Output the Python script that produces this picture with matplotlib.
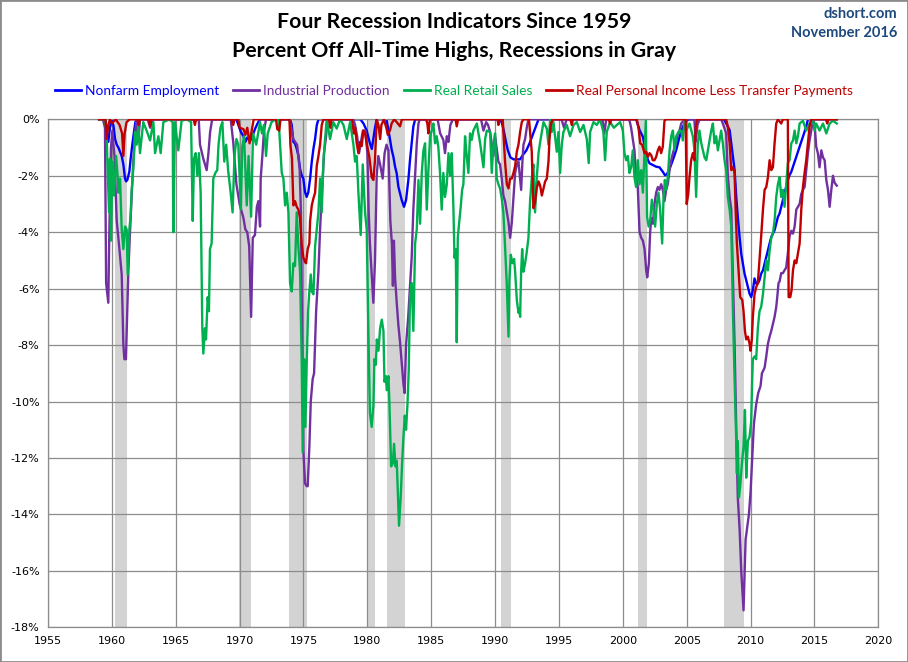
import matplotlib
matplotlib.use('Agg')
import matplotlib.pyplot as plt
from matplotlib.lines import Line2D
from matplotlib.patches import Rectangle

# (year, percent off all-time high)
nonfarm = [
    (1959.0, 0), (1959.5, 0), (1959.6, -0.5), (1959.72, -0.8), (1959.85, -0.3), (1960.0, 0), (1960.12, -0.2),
    (1960.25, -0.7), (1960.38, -0.9), (1960.51, -1.0), (1960.64, -1.15), (1960.77, -1.3), (1960.9, -1.6),
    (1961.03, -2.1), (1961.11, -2.2), (1961.21, -2.15), (1961.37, -1.85), (1961.47, -1.4), (1961.6, -0.9),
    (1961.73, -0.45), (1961.84, -0.1), (1961.95, 0),
    (1969.75, 0), (1969.9, -0.2), (1970.1, -0.45), (1970.3, -0.6), (1970.45, -0.8), (1970.6, -0.65),
    (1970.85, -0.75), (1971.0, -0.6), (1971.2, -0.35), (1971.4, -0.15), (1971.6, 0),
    (1973.95, 0), (1974.08, -0.2), (1974.21, -0.8), (1974.34, -0.86), (1974.47, -1.04), (1974.6, -1.28),
    (1974.73, -1.75), (1974.86, -1.99), (1974.99, -2.1), (1975.12, -2.58), (1975.25, -2.75), (1975.38, -2.58),
    (1975.52, -2.1), (1975.65, -1.5), (1975.78, -1.04), (1975.91, -0.69), (1976.04, -0.21), (1976.17, 0),
    (1979.45, 0), (1979.7, -0.15), (1979.95, -0.4), (1980.2, -0.85), (1980.35, -1.05), (1980.47, -0.7),
    (1980.6, -0.3), (1980.73, 0),
    (1981.5, 0), (1981.65, -0.38), (1981.78, -0.73), (1981.91, -1.09), (1982.04, -1.33), (1982.17, -1.68),
    (1982.3, -1.92), (1982.43, -2.39), (1982.56, -2.63), (1982.69, -2.86), (1982.87, -3.1), (1983.03, -2.86),
    (1983.21, -2.15), (1983.34, -1.44), (1983.47, -0.85), (1983.6, -0.26), (1983.74, 0),
    (1990.4, 0), (1990.55, -0.15), (1990.7, -0.45), (1990.85, -0.8), (1991.0, -1.1), (1991.2, -1.35),
    (1991.45, -1.42), (1991.7, -1.42), (1991.95, -1.42), (1992.2, -1.25), (1992.45, -1.1), (1992.7, -0.85),
    (1992.95, -0.55), (1993.2, -0.25), (1993.4, 0),
    (2001.04, 0), (2001.31, -0.38), (2001.57, -0.62), (2001.83, -1.21), (2001.96, -1.44), (2002.09, -1.56),
    (2002.35, -1.62), (2002.61, -1.68), (2002.87, -1.7), (2003.13, -1.86), (2003.3, -1.98), (2003.45, -1.95),
    (2003.6, -1.8), (2003.75, -1.65), (2003.92, -1.44), (2004.18, -1.09), (2004.44, -0.62), (2004.7, -0.26),
    (2004.96, -0.05), (2005.22, 0),
    (2007.9, 0), (2008.09, -0.14), (2008.36, -0.38), (2008.49, -0.85), (2008.62, -1.33), (2008.75, -1.8),
    (2008.88, -2.75), (2009.0, -3.46), (2009.14, -4.17), (2009.27, -4.76), (2009.4, -5.11), (2009.53, -5.47),
    (2009.66, -5.7), (2009.79, -5.94), (2009.92, -6.18), (2010.05, -6.3), (2010.18, -6.06), (2010.31, -5.64),
    (2010.44, -5.82), (2010.57, -5.82), (2010.7, -5.7), (2010.83, -5.47), (2010.97, -5.35), (2011.1, -5.11),
    (2011.23, -4.88), (2011.36, -4.64), (2011.49, -4.4), (2011.62, -4.17), (2011.75, -4.05), (2011.88, -3.93),
    (2012.01, -3.69), (2012.14, -3.46), (2012.27, -3.34), (2012.4, -3.1), (2012.53, -2.86), (2012.66, -2.63),
    (2012.79, -2.39), (2012.92, -2.15), (2013.05, -1.98), (2013.19, -1.86), (2013.32, -1.68), (2013.58, -1.33),
    (2013.84, -0.97), (2014.1, -0.62), (2014.36, -0.26), (2014.49, 0), (2016.75, 0),
]

industrial = [
    (1959.0, 0), (1959.3, 0), (1959.46, -0.3), (1959.55, -5.8), (1959.72, -6.5), (1959.8, -4.0), (1959.93, -1.0),
    (1960.04, -0.4), (1960.2, -1.3), (1960.38, -3.6), (1960.55, -4.4), (1960.77, -5.5), (1960.9, -8.0),
    (1960.98, -8.5), (1961.1, -8.5), (1961.2, -6.8), (1961.29, -5.4), (1961.42, -4.0), (1961.55, -2.7),
    (1961.68, -1.5), (1961.81, -0.5), (1961.94, 0),
    (1962.07, -0.8), (1962.2, 0), (1962.8, 0), (1963.0, -0.3), (1963.2, 0), (1966.8, 0), (1966.9, -0.9),
    (1967.16, -1.4), (1967.42, -1.8), (1967.56, -1.2), (1967.69, -0.45), (1967.85, 0),
    (1969.3, 0), (1969.5, -0.8), (1969.75, -2.3), (1970.0, -3.0), (1970.3, -3.5), (1970.45, -3.9), (1970.6, -4.0),
    (1970.75, -4.5), (1970.9, -7.0), (1971.03, -4.2), (1971.2, -4.1), (1971.35, -3.1), (1971.47, -2.9),
    (1971.6, -3.8), (1971.65, -2.1), (1971.78, -1.3), (1971.91, -0.4), (1972.07, 0),
    (1973.9, 0), (1974.0, -0.2), (1974.2, -0.7), (1974.5, -0.9), (1974.7, -1.75), (1974.8, -3.3), (1974.9, -8.0),
    (1975.0, -11.8), (1975.12, -12.9), (1975.25, -13.0), (1975.33, -13.0), (1975.46, -11.6), (1975.57, -10.0),
    (1975.72, -9.2), (1975.83, -9.0), (1975.99, -6.8), (1976.17, -5.4), (1976.3, -3.9), (1976.43, -2.7),
    (1976.61, -1.2), (1976.77, -0.6), (1976.87, 0),
    (1978.9, 0), (1979.04, -0.2), (1979.2, -0.6), (1979.35, -1.2), (1979.5, -0.8), (1979.65, -0.4),
    (1979.85, -0.4), (1980.0, -1.2), (1980.1, -3.2), (1980.2, -4.4), (1980.35, -5.6), (1980.47, -6.5),
    (1980.6, -5.0), (1980.73, -2.0), (1980.86, -1.3), (1981.0, -1.6), (1981.2, -2.1), (1981.35, -1.2),
    (1981.5, -0.9), (1981.65, -1.1), (1981.8, -3.6), (1981.92, -4.4), (1982.0, -5.9), (1982.08, -4.3),
    (1982.17, -5.6), (1982.3, -6.5), (1982.43, -7.3), (1982.56, -7.9), (1982.7, -8.7), (1982.83, -9.4),
    (1982.92, -9.7), (1983.03, -8.0), (1983.2, -7.0), (1983.35, -5.8), (1983.47, -4.9), (1983.6, -3.2),
    (1983.74, -2.0), (1983.87, -0.85), (1984.0, -0.15), (1984.1, 0),
    (1985.5, 0), (1985.7, -0.5), (1985.95, -0.73), (1986.08, -1.2), (1986.22, -0.6), (1986.35, -0.8),
    (1986.5, -0.2), (1986.7, 0),
    (1988.9, 0), (1989.09, -0.4), (1989.3, -0.1), (1989.45, -0.2), (1989.61, -0.45), (1989.87, -1.3),
    (1990.0, -0.6), (1990.26, -1.5), (1990.39, -1.6), (1990.52, -2.1), (1990.65, -2.7), (1990.78, -2.9),
    (1990.92, -3.3), (1991.05, -3.65), (1991.18, -4.2), (1991.31, -3.65), (1991.44, -2.8), (1991.57, -1.9),
    (1991.7, -1.6), (1991.83, -1.5), (1991.96, -2.1), (1992.04, -2.5), (1992.14, -1.5), (1992.22, -0.9),
    (1992.35, -0.7), (1992.48, -0.3), (1992.61, 0),
    (1995.2, 0), (1995.4, -0.3), (1995.6, 0), (1998.4, 0), (1998.55, -0.5), (1998.7, 0),
    (2000.5, 0), (2000.65, -0.3), (2000.78, -0.7), (2000.91, -1.1), (2001.04, -2.0), (2001.17, -2.4),
    (2001.31, -4.0), (2001.44, -4.2), (2001.57, -4.3), (2001.7, -4.6), (2001.83, -5.35), (2001.91, -5.6),
    (2002.04, -5.1), (2002.14, -4.0), (2002.22, -3.5), (2002.35, -3.7), (2002.48, -3.0), (2002.61, -2.6),
    (2002.74, -2.4), (2002.87, -2.5), (2003.0, -2.3), (2003.13, -2.5), (2003.26, -2.9), (2003.39, -2.5),
    (2003.52, -2.3), (2003.66, -1.8), (2003.79, -1.45), (2003.92, -1.2), (2004.05, -1.0), (2004.18, -0.85),
    (2004.31, -0.5), (2004.44, -0.4), (2004.57, -0.15), (2004.83, 0),
    (2005.6, 0), (2005.7, -0.8), (2005.85, -0.2), (2006.0, 0),
    (2007.7, 0), (2007.83, -0.15), (2008.09, -0.5), (2008.22, -2.0), (2008.36, -2.75), (2008.49, -3.2),
    (2008.62, -5.6), (2008.75, -8.0), (2008.88, -11.0), (2009.0, -13.4), (2009.14, -14.5), (2009.27, -16.0),
    (2009.45, -17.4), (2009.61, -14.9), (2009.74, -14.45), (2009.87, -14.0), (2010.0, -13.2), (2010.13, -12.0),
    (2010.26, -10.8), (2010.44, -10.1), (2010.6, -9.7), (2010.78, -9.45), (2010.89, -9.0), (2011.1, -8.8),
    (2011.23, -8.4), (2011.36, -7.95), (2011.49, -7.7), (2011.62, -7.5), (2011.75, -7.25), (2011.88, -7.0),
    (2012.01, -6.65), (2012.09, -6.3), (2012.19, -5.8), (2012.27, -5.75), (2012.4, -5.45), (2012.53, -5.45),
    (2012.66, -5.35), (2012.79, -5.25), (2012.92, -4.75), (2013.05, -4.15), (2013.19, -3.95), (2013.32, -4.05),
    (2013.45, -3.8), (2013.58, -3.2), (2013.71, -3.1), (2013.84, -3.0), (2013.97, -2.65), (2014.1, -2.5),
    (2014.23, -2.4), (2014.36, -1.8), (2014.49, -1.2), (2014.62, -0.75), (2014.75, -0.4), (2014.88, -0.05),
    (2015.01, -0.15), (2015.14, -0.97), (2015.27, -1.2), (2015.4, -1.7), (2015.54, -1.1), (2015.67, -1.35),
    (2015.8, -1.45), (2015.93, -2.15), (2016.06, -2.5), (2016.19, -3.1), (2016.32, -2.5), (2016.45, -2.0),
    (2016.58, -2.25), (2016.75, -2.35),
]

retail = [
    (1959.0, 0), (1959.46, 0), (1959.59, -0.5), (1959.65, -1.5), (1959.78, -3.3), (1959.85, -1.4), (1959.93, -4.3),
    (1960.04, -1.5), (1960.17, -2.7), (1960.33, -1.3), (1960.45, -2.0), (1960.51, -2.6), (1960.64, -2.1),
    (1960.77, -3.9), (1960.9, -4.6), (1961.03, -3.8), (1961.16, -3.9), (1961.24, -5.5), (1961.37, -3.9),
    (1961.47, -3.4), (1961.55, -2.5), (1961.63, -2.1), (1961.73, -1.3), (1961.81, -0.45), (1961.94, -0.9),
    (1962.07, -0.2), (1962.2, -1.2), (1962.46, -0.1), (1962.72, -0.4), (1962.99, -0.75), (1963.25, -0.1),
    (1963.38, -1.2), (1963.64, -0.6), (1963.82, -1.2), (1964.03, -0.1), (1964.5, 0), (1964.76, -0.1),
    (1964.81, -4.0), (1964.94, -0.1), (1965.2, -1.1), (1965.46, -0.05), (1965.86, 0), (1966.2, -0.1),
    (1966.33, -3.6), (1966.43, -1.4), (1966.56, -1.2), (1966.69, -2.0), (1966.82, -1.2), (1966.95, -2.6),
    (1967.08, -7.4), (1967.16, -8.3), (1967.29, -7.4), (1967.37, -7.8), (1967.5, -6.3), (1967.6, -6.8),
    (1967.68, -4.6), (1967.81, -4.4), (1967.94, -2.1), (1968.1, -1.9), (1968.25, -1.8), (1968.35, -0.9),
    (1968.5, -0.3), (1968.65, -0.1), (1968.8, -1.5), (1968.95, -0.9), (1969.1, -1.8), (1969.3, -2.6),
    (1969.45, -3.3), (1969.6, -1.3), (1969.75, -0.7), (1969.9, -0.9),
    (1970.1, -3.2), (1970.2, -1.0), (1970.35, -0.6), (1970.56, -3.05), (1970.7, -1.3), (1970.9, -3.45),
    (1971.05, -0.5), (1971.3, -0.9), (1971.45, -0.5), (1971.6, -0.1), (1971.75, -0.5), (1971.9, -0.2),
    (1972.07, -1.3), (1972.2, -0.5), (1972.5, -0.1), (1972.8, 0), (1973.05, 0),
    (1973.17, -0.9), (1973.3, -1.9), (1973.43, -2.1), (1973.56, -3.05), (1973.69, -2.6), (1973.82, -3.3),
    (1973.95, -5.8), (1974.08, -6.1), (1974.21, -5.1), (1974.34, -5.2), (1974.47, -3.3), (1974.6, -4.5),
    (1974.73, -5.4), (1974.86, -8.5), (1974.94, -11.8), (1975.05, -8.5), (1975.15, -10.9), (1975.25, -8.7),
    (1975.36, -6.8), (1975.46, -6.1), (1975.57, -5.5), (1975.65, -6.1), (1975.78, -6.2), (1975.91, -4.5),
    (1976.04, -3.9), (1976.17, -3.3), (1976.3, -2.1), (1976.43, -3.3), (1976.56, -1.5), (1976.69, -0.7),
    (1976.82, 0),
    (1977.08, -0.7), (1977.34, -0.1), (1977.6, -0.33), (1977.86, 0), (1978.13, -0.2), (1978.39, -0.7),
    (1978.65, -0.1), (1978.91, -0.9), (1979.04, -1.5), (1979.17, -1.3), (1979.3, -2.6), (1979.48, -4.1),
    (1979.64, -1.6), (1979.82, -3.3), (1979.95, -3.9), (1980.08, -7.5), (1980.2, -10.4), (1980.34, -10.9),
    (1980.48, -10.1), (1980.55, -8.5), (1980.66, -8.7), (1980.74, -7.8), (1980.87, -8.2), (1981.0, -7.4),
    (1981.13, -7.1), (1981.26, -7.5), (1981.34, -9.3), (1981.45, -9.1), (1981.52, -9.6), (1981.65, -9.1),
    (1981.73, -10.1), (1981.86, -12.3), (1981.99, -12.2), (1982.09, -11.5), (1982.2, -12.3), (1982.3, -12.1),
    (1982.38, -13.15), (1982.48, -14.4), (1982.61, -13.4), (1982.72, -12.2), (1982.82, -11.3), (1982.93, -10.5),
    (1983.03, -11.0), (1983.14, -10.1), (1983.24, -8.9), (1983.34, -6.3), (1983.47, -5.8), (1983.6, -7.5),
    (1983.74, -4.4), (1983.87, -3.9), (1984.0, -2.15), (1984.13, -3.7), (1984.26, -1.9), (1984.39, -1.1),
    (1984.52, -0.85), (1984.65, -3.2), (1984.78, -1.8), (1984.91, -0.6), (1985.04, -0.4), (1985.17, -0.15),
    (1985.3, -0.85), (1985.43, -0.6), (1985.56, -1.0), (1985.69, -1.9), (1985.82, -3.2), (1985.95, -1.9),
    (1986.08, -2.75), (1986.22, -2.3), (1986.35, -1.2), (1986.48, -2.0), (1986.61, -1.2), (1986.74, -3.2),
    (1986.82, -4.9), (1986.92, -4.6), (1987.0, -7.9), (1987.08, -4.2), (1987.18, -3.7), (1987.31, -3.1),
    (1987.42, -2.5), (1987.52, -2.3), (1987.65, -0.6), (1987.78, -1.3), (1987.91, -1.9), (1988.04, -0.5),
    (1988.17, -0.73), (1988.3, -0.4), (1988.57, -0.15), (1988.83, -0.85), (1989.09, -1.7), (1989.22, -0.7),
    (1989.35, -0.4), (1989.61, -0.45), (1989.74, -1.9), (1989.87, -0.9), (1990.0, -0.5), (1990.13, -2.1),
    (1990.26, -2.3), (1990.39, -2.45), (1990.52, -2.8), (1990.65, -3.3), (1990.78, -4.5), (1990.92, -5.9),
    (1991.05, -7.7), (1991.12, -5.7), (1991.23, -4.8), (1991.36, -5.1), (1991.49, -4.95), (1991.57, -5.4),
    (1991.7, -6.4), (1991.83, -6.85), (1991.91, -6.7), (1991.96, -7.0), (1992.04, -5.4), (1992.12, -4.6),
    (1992.22, -5.4), (1992.35, -5.1), (1992.48, -4.7), (1992.61, -4.2), (1992.74, -2.9), (1992.87, -2.1),
    (1993.0, -1.6), (1993.13, -3.3), (1993.26, -2.1), (1993.4, -1.2), (1993.53, -0.8), (1993.66, -0.45),
    (1993.79, -0.1), (1994.05, -0.33), (1994.18, -0.9), (1994.31, 0), (1994.44, -0.45), (1994.57, -0.1),
    (1994.83, -1.15), (1994.96, -0.45), (1995.09, -1.9), (1995.22, -0.9), (1995.35, -0.45), (1995.61, -0.2),
    (1995.87, -0.6), (1996.14, -0.2), (1996.4, -0.1), (1996.66, -0.45), (1996.92, -0.2), (1997.18, -0.7),
    (1997.33, -1.55), (1997.44, -0.45), (1997.7, -0.1), (1997.96, -0.2), (1998.22, 0), (1998.48, -0.45),
    (1998.61, -1.45), (1998.74, -0.45), (1999.0, -0.1), (1999.3, -0.3), (1999.53, -0.2), (1999.79, -0.1),
    (2000.0, -0.4), (2000.13, -1.2), (2000.26, -1.45), (2000.39, -1.3), (2000.52, -1.9), (2000.65, -1.7),
    (2000.78, -1.1), (2000.91, -2.05), (2001.04, -2.4), (2001.17, -1.45), (2001.31, -2.3), (2001.44, -1.8),
    (2001.57, -2.6), (2001.7, -1.2), (2001.8, -0.05), (2001.9, -3.45), (2002.02, -3.8), (2002.14, -3.6),
    (2002.27, -2.85), (2002.4, -3.2), (2002.53, -3.8), (2002.66, -3.0), (2002.79, -2.6), (2002.92, -3.2),
    (2003.08, -4.4), (2003.19, -2.75), (2003.29, -2.15), (2003.39, -2.5), (2003.52, -2.05), (2003.66, -1.1),
    (2003.79, -0.6), (2003.92, -0.4), (2004.05, -1.1), (2004.18, -0.6), (2004.44, -0.4), (2004.57, -0.4),
    (2004.7, -0.75), (2004.83, 0), (2004.96, -0.4), (2005.22, -0.15), (2005.48, -0.6), (2005.61, -1.1),
    (2005.74, -2.75), (2005.87, -0.85), (2006.0, -0.4), (2006.14, -0.85), (2006.27, -1.1), (2006.4, -1.35),
    (2006.53, -1.45), (2006.66, -1.1), (2006.79, -0.75), (2006.92, -0.4), (2007.05, -0.15), (2007.18, -0.85),
    (2007.31, -0.6), (2007.44, -1.1), (2007.57, -0.75), (2007.7, -0.4), (2007.83, -0.85), (2007.96, -1.45),
    (2008.09, -1.8), (2008.22, -2.75), (2008.36, -3.2), (2008.49, -3.8), (2008.62, -6.8), (2008.75, -9.2),
    (2008.88, -11.4), (2008.93, -12.55), (2009.0, -11.4), (2009.09, -13.4), (2009.19, -13.0), (2009.32, -12.2),
    (2009.45, -11.6), (2009.56, -10.3), (2009.66, -12.7), (2009.79, -11.4), (2009.92, -11.25), (2010.05, -10.7),
    (2010.13, -9.2), (2010.18, -8.5), (2010.31, -8.4), (2010.44, -8.5), (2010.57, -7.4), (2010.7, -6.8),
    (2010.83, -6.65), (2010.97, -6.2), (2011.1, -5.6), (2011.23, -5.0), (2011.36, -5.35), (2011.49, -4.65),
    (2011.62, -4.2), (2011.75, -4.05), (2011.88, -3.6), (2012.01, -2.75), (2012.14, -2.3), (2012.27, -2.05),
    (2012.4, -2.75), (2012.53, -2.5), (2012.66, -3.1), (2012.79, -2.3), (2012.92, -1.55), (2013.05, -1.45),
    (2013.19, -0.85), (2013.32, -0.75), (2013.45, -0.4), (2013.58, -0.85), (2013.71, -0.6), (2013.84, -0.15),
    (2014.1, -0.05), (2014.36, -0.4), (2014.62, -0.15), (2014.88, 0), (2015.01, -0.4), (2015.14, -0.15),
    (2015.4, -0.4), (2015.67, -0.15), (2015.93, -0.5), (2016.19, -0.15), (2016.45, -0.05), (2016.75, -0.15),
]

income = [
    (1959.0, 0), (1959.5, 0), (1959.59, -0.7), (1959.72, -0.2), (1959.85, 0), (1960.0, -0.15), (1960.3, 0),
    (1960.6, -0.2), (1960.8, -0.5), (1960.9, -1.3), (1961.0, -0.5), (1961.15, -0.1), (1961.4, 0),
    (1962.0, 0), (1962.1, -0.2), (1962.2, 0), (1962.9, 0), (1963.0, -0.25), (1963.1, 0), (1966.4, 0),
    (1966.5, -0.2), (1966.6, 0), (1969.4, 0), (1969.5, -0.2), (1969.6, 0),
    (1969.9, 0), (1970.0, -0.3), (1970.3, -0.35), (1970.45, -0.55), (1970.6, -0.3), (1970.78, -0.85),
    (1970.95, -0.4), (1971.1, 0),
    (1972.85, 0), (1972.95, -0.35), (1973.1, -0.4), (1973.2, 0),
    (1973.9, 0), (1973.98, -0.9), (1974.1, -1.4), (1974.21, -3.05), (1974.34, -2.9), (1974.47, -3.1),
    (1974.6, -3.2), (1974.73, -3.5), (1974.86, -4.45), (1974.99, -4.9), (1975.12, -5.05), (1975.2, -5.1),
    (1975.33, -4.6), (1975.46, -4.4), (1975.52, -3.6), (1975.65, -3.05), (1975.78, -2.8), (1975.91, -2.6),
    (1976.04, -1.65), (1976.17, -1.3), (1976.3, -0.9), (1976.43, -0.2), (1976.56, 0),
    (1977.0, 0), (1977.1, -0.3), (1977.2, 0), (1978.8, 0), (1978.95, -0.5), (1979.04, -0.3), (1979.17, -0.85),
    (1979.3, -1.2), (1979.43, -0.8), (1979.56, -0.95), (1979.69, -0.4), (1979.82, -0.5), (1979.95, -0.85),
    (1980.16, -1.35), (1980.34, -2.05), (1980.47, -2.15), (1980.6, -1.45), (1980.73, 0),
    (1980.87, -0.2), (1981.0, -0.7), (1981.1, -0.2), (1981.3, 0), (1981.5, -0.33), (1981.6, -0.55),
    (1981.78, -0.38), (1981.9, -0.15), (1982.1, 0), (1982.3, -0.1), (1982.56, -0.25), (1982.7, 0),
    (1984.6, 0), (1984.7, -0.15), (1984.78, -0.5), (1984.9, 0), (1986.9, 0), (1987.0, -0.25), (1987.1, 0),
    (1990.2, 0), (1990.26, -0.2), (1990.35, 0), (1990.6, 0), (1990.65, -0.45), (1990.78, -1.5), (1990.92, -2.3),
    (1991.05, -2.45), (1991.18, -2.1), (1991.31, -2.1), (1991.44, -1.9), (1991.57, -1.65), (1991.7, -1.15),
    (1991.83, -0.9), (1991.96, -0.45), (1992.09, -0.1), (1992.22, 0),
    (1992.65, 0), (1992.74, -0.45), (1992.87, -1.15), (1993.0, -3.15), (1993.13, -2.95), (1993.26, -2.45),
    (1993.4, -2.2), (1993.53, -2.35), (1993.66, -2.7), (1993.79, -2.45), (1993.92, -2.2), (1994.05, -2.1),
    (1994.18, -1.5), (1994.26, -0.7), (1994.36, -0.2), (1994.5, 0),
    (1995.9, 0), (1996.0, -0.2), (1996.1, 0), (1998.9, 0), (1999.0, -0.15), (1999.1, 0),
    (2001.1, 0), (2001.25, -0.38), (2001.36, -0.85), (2001.51, -0.9), (2001.7, -1.2), (2001.83, -1.15),
    (2001.96, -1.33), (2002.09, -1.2), (2002.22, -1.27), (2002.35, -1.45), (2002.48, -1.45), (2002.61, -1.33),
    (2002.74, -1.1), (2002.87, -0.97), (2003.0, -1.2), (2003.13, -0.97), (2003.26, -0.05), (2003.39, 0),
    (2004.85, 0), (2004.92, 0), (2005.0, -3.0), (2005.12, -2.65), (2005.22, -2.05), (2005.35, -1.45),
    (2005.48, -1.2), (2005.61, -1.45), (2005.69, -0.4), (2005.8, 0),
    (2008.09, 0), (2008.22, -0.26), (2008.36, -0.85), (2008.49, -1.8), (2008.62, -1.7), (2008.75, -1.9),
    (2008.83, -3.2), (2008.93, -4.4), (2009.09, -5.6), (2009.19, -6.3), (2009.35, -6.4), (2009.45, -6.8),
    (2009.56, -7.5), (2009.66, -7.8), (2009.79, -7.7), (2009.92, -7.95), (2010.0, -8.2), (2010.1, -7.8),
    (2010.18, -7.0), (2010.31, -6.2), (2010.44, -5.95), (2010.57, -5.8), (2010.7, -5.0), (2010.83, -4.15),
    (2010.97, -3.2), (2011.1, -2.5), (2011.23, -2.4), (2011.36, -2.05), (2011.49, -1.45), (2011.62, -1.8),
    (2011.75, -1.7), (2011.88, -0.85), (2012.01, -0.15), (2012.14, 0), (2012.4, -0.15), (2012.53, 0),
    (2012.92, 0), (2012.98, -6.3), (2013.11, -6.3), (2013.21, -6.05), (2013.32, -5.35), (2013.45, -5.0),
    (2013.58, -5.1), (2013.71, -4.75), (2013.84, -4.4), (2013.97, -3.2), (2014.1, -2.4), (2014.23, -1.9),
    (2014.36, -1.45), (2014.49, -0.85), (2014.62, -0.25), (2014.75, 0),
    (2015.9, 0), (2016.0, -0.15), (2016.1, 0), (2016.75, 0),
]

recessions = [(1960.25, 1961.17), (1969.92, 1970.92), (1973.83, 1975.25), (1980.0, 1980.58),
              (1981.5, 1982.92), (1990.5, 1991.25), (2001.17, 2001.92), (2007.92, 2009.5)]

labels = ['Nonfarm Employment', 'Industrial Production', 'Real Retail Sales',
          'Real Personal Income Less Transfer Payments']
colors = ['#0000FF', '#7030A0', '#00B050', '#C00000']
series = [nonfarm, industrial, retail, income]

fig = plt.figure(figsize=(9.08, 6.62), dpi=100)
ax = fig.add_axes([48 / 908, 34.7 / 662, 830.3 / 908, 508 / 662])

for start, end in recessions:
    ax.axvspan(start, end, color='#D3D3D3', lw=0, zorder=0)

for pts, c, lab, z in zip(series, colors, labels, [2, 3, 4, 5]):
    xs = [p[0] for p in pts]
    ys = [p[1] for p in pts]
    ax.plot(xs, ys, color=c, lw=1.7, label=lab, zorder=z)

ax.set_xlim(1955, 2020)
ax.set_ylim(-18, 0)
ax.set_xticks(range(1955, 2021, 5))
ax.set_yticks(range(-18, 1, 2))
ax.set_yticklabels(['%d%%' % v for v in range(-18, 1, 2)])
ax.set_axisbelow(True)
ax.grid(True, color='#8C8C8C', lw=0.9)
for s in ax.spines.values():
    s.set_color('#8C8C8C')
    s.set_linewidth(0.9)
ax.tick_params(length=0, labelsize=8, pad=6)

fig.text(0.5, 1 - 22 / 662, 'Four Recession Indicators Since 1959', ha='center', va='center',
         fontsize=15.3, family='Lato', fontweight='bold')
fig.text(0.5, 1 - 51 / 662, 'Percent Off All-Time Highs, Recessions in Gray', ha='center', va='center',
         fontsize=15.3, family='Lato', fontweight='bold')
fig.text(897 / 908, 1 - 14 / 662, 'dshort.com', ha='right', va='center', fontsize=10.5,
         family='Lato', fontweight='bold', color='#1F497D')
fig.text(897 / 908, 1 - 33 / 662, 'November 2016', ha='right', va='center', fontsize=10.5,
         family='Lato', fontweight='bold', color='#1F497D')

handles = [Line2D([], [], color=c, lw=2) for c in colors]
fig.legend(handles, labels, loc='center', bbox_to_anchor=(0.5, 1 - 91 / 662), ncol=4, frameon=False,
           handlelength=1.9, handletextpad=0.3, columnspacing=1.0, labelcolor=colors,
           prop={'family': 'Lato', 'size': 9.9})

fig.add_artist(Rectangle((0, 0), 1, 1, transform=fig.transFigure, fill=False,
                         edgecolor='#8C8C8C', lw=2))

fig.savefig('out.png', dpi=100)
